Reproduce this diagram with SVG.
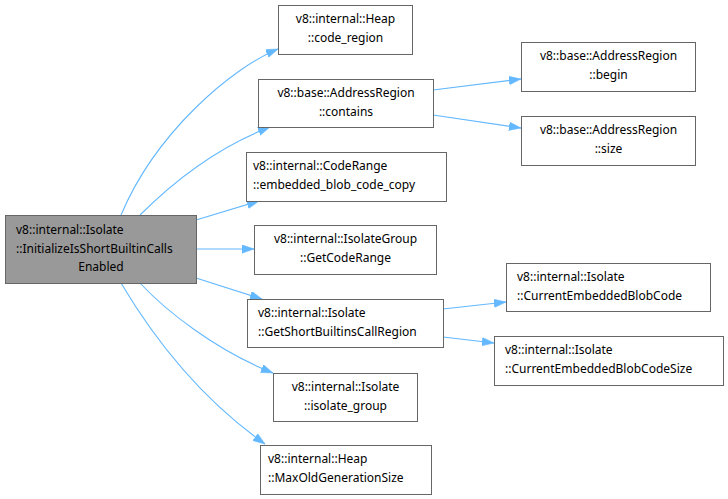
<svg xmlns="http://www.w3.org/2000/svg" width="728" height="499" viewBox="0 0 728 499">
<style>
.n{fill:#ffffff;stroke:#666666;stroke-width:1}
.m{fill:#999999;stroke:#666666;stroke-width:1}
text{font-family:"Noto Sans","DejaVu Sans",sans-serif;font-size:12px;fill:#000000}
.c{text-anchor:middle}
.e{fill:none;stroke:#63b8ff;stroke-width:1.1;marker-end:url(#ah)}
</style>
<defs>
<marker id="ah" markerUnits="userSpaceOnUse" markerWidth="13" markerHeight="10" refX="12" refY="4.25" orient="auto">
<path d="M0,0 L12,4.25 L0,8.5 z" fill="#63b8ff" stroke="#63b8ff" stroke-width="0.5"/>
</marker>
</defs>
<rect width="728" height="499" fill="#ffffff"/>
<g id="edges">
<path class="e" d="M121,215 C156,132 232,68 278,49"/>
<path class="e" d="M140,215 C165,190 210,150 270,127"/>
<path class="e" d="M196,220 L259,201"/>
<path class="e" d="M196,249 L254,249"/>
<path class="e" d="M196,278 L262,299"/>
<path class="e" d="M140,283 C165,310 215,350 273,373"/>
<path class="e" d="M121,283 C172,369 224,415 265,444"/>
<path class="e" d="M433,90 L521,79"/>
<path class="e" d="M433,115 L521,128"/>
<path class="e" d="M443,309 L506,302"/>
<path class="e" d="M443,337 L494,343"/>
</g>
<g id="main">
<rect class="m" x="5.5" y="215.5" width="191" height="68"/>
<text x="16" y="234">v8::internal::Isolate</text>
<text x="16" y="253">::InitializeIsShortBuiltinCalls</text>
<text class="c" x="101" y="271">Enabled</text>
</g>
<g id="code_region">
<rect class="n" x="278.5" y="5.5" width="134" height="49"/>
<text class="c" x="345.5" y="23">v8::internal::Heap</text>
<text class="c" x="345.5" y="42">::code_region</text>
</g>
<g id="contains">
<rect class="n" x="258.5" y="79.5" width="175" height="48"/>
<text class="c" x="346" y="97">v8::base::AddressRegion</text>
<text class="c" x="346" y="116">::contains</text>
</g>
<g id="begin">
<rect class="n" x="521.5" y="42.5" width="174" height="49"/>
<text class="c" x="608.5" y="60">v8::base::AddressRegion</text>
<text class="c" x="608.5" y="79">::begin</text>
</g>
<g id="size">
<rect class="n" x="521.5" y="116.5" width="174" height="49"/>
<text class="c" x="608.5" y="134">v8::base::AddressRegion</text>
<text class="c" x="608.5" y="153">::size</text>
</g>
<g id="embedded_blob_code_copy">
<rect class="n" x="246.5" y="152.5" width="200" height="49"/>
<text x="253" y="170">v8::internal::CodeRange</text>
<text x="253" y="189">::embedded_blob_code_copy</text>
</g>
<g id="GetCodeRange">
<rect class="n" x="254.5" y="225.5" width="182" height="49"/>
<text class="c" x="345.5" y="243">v8::internal::IsolateGroup</text>
<text class="c" x="345.5" y="262">::GetCodeRange</text>
</g>
<g id="GetShortBuiltinsCallRegion">
<rect class="n" x="247.5" y="299.5" width="196" height="48"/>
<text x="258" y="317">v8::internal::Isolate</text>
<text x="258" y="336">::GetShortBuiltinsCallRegion</text>
</g>
<g id="CurrentEmbeddedBlobCode">
<rect class="n" x="506.5" y="263.5" width="204" height="48"/>
<text x="517" y="281">v8::internal::Isolate</text>
<text x="517" y="300">::CurrentEmbeddedBlobCode</text>
</g>
<g id="CurrentEmbeddedBlobCodeSize">
<rect class="n" x="494.5" y="336.5" width="229" height="49"/>
<text x="505" y="354">v8::internal::Isolate</text>
<text x="505" y="373">::CurrentEmbeddedBlobCodeSize</text>
</g>
<g id="isolate_group">
<rect class="n" x="273.5" y="373.5" width="144" height="48"/>
<text class="c" x="345.5" y="391">v8::internal::Isolate</text>
<text class="c" x="345.5" y="410">::isolate_group</text>
</g>
<g id="MaxOldGenerationSize">
<rect class="n" x="260.5" y="445.5" width="171" height="49"/>
<text x="268" y="463">v8::internal::Heap</text>
<text x="268" y="482">::MaxOldGenerationSize</text>
</g>
</svg>
